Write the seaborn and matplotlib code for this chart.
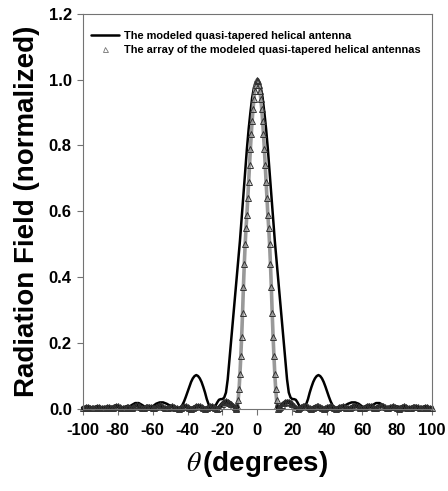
import numpy as np
import pandas as pd
import matplotlib
matplotlib.use("Agg")
import matplotlib.pyplot as plt
import seaborn as sns
from matplotlib.lines import Line2D

sns.set_theme(style="white")
plt.rcParams["font.family"] = ["Liberation Sans", "DejaVu Sans"]
plt.rcParams["mathtext.fontset"] = "stix"
plt.rcParams["axes.unicode_minus"] = False
plt.rcParams["text.color"] = "black"
plt.rcParams["axes.labelcolor"] = "black"
plt.rcParams["xtick.color"] = "black"
plt.rcParams["ytick.color"] = "black"

# ── Single quasi-tapered helical antenna (solid line) ────────────────────────
single_theta_left = np.arange(-100, -47, 2)
single_left = [0.004, 0.005, 0.006, 0.004, 0.003, 0.005, 0.006, 0.004, 0.003,
               0.006, 0.008, 0.006, 0.002, 0.005, 0.012, 0.018, 0.018, 0.012,
               0.005, 0.003, 0.008, 0.016, 0.020, 0.020, 0.016, 0.010, 0.004]
single_theta_mid = np.arange(-46, 47, 1)
single_mid = [0.000, 0.001, 0.005, 0.012, 0.023, 0.037, 0.052, 0.068, 0.082, 0.093,
              0.100, 0.103, 0.100, 0.093, 0.082, 0.067, 0.050, 0.030, 0.015, 0.005,
              0.000, 0.003, 0.010, 0.020, 0.028, 0.030, 0.030, 0.035, 0.050, 0.090,
              0.150, 0.210, 0.270, 0.330, 0.390, 0.450, 0.510, 0.580, 0.650, 0.720,
              0.790, 0.850, 0.900, 0.945, 0.975, 0.993,
              1.000,
              0.993, 0.975, 0.945, 0.900, 0.850, 0.790, 0.720, 0.650, 0.580, 0.510,
              0.450, 0.390, 0.330, 0.270, 0.210, 0.150, 0.090, 0.050, 0.035, 0.030,
              0.030, 0.028, 0.020, 0.010, 0.003, 0.000, 0.005, 0.015, 0.030, 0.050,
              0.067, 0.082, 0.093, 0.100, 0.103, 0.100, 0.093, 0.082, 0.068, 0.052,
              0.037, 0.023, 0.012, 0.005, 0.001, 0.000]
single_theta_right = np.arange(48, 101, 2)
single_right = [0.004, 0.010, 0.016, 0.020, 0.020, 0.016, 0.008, 0.003, 0.005,
                0.012, 0.018, 0.018, 0.012, 0.005, 0.002, 0.006, 0.008, 0.006,
                0.003, 0.004, 0.006, 0.005, 0.003, 0.004, 0.006, 0.005, 0.004]

# ── Array of quasi-tapered helical antennas (triangle markers) ───────────────
array_theta_left = np.arange(-100, -12, 1)
array_left = [0.003, 0.004, 0.006, 0.006, 0.004, 0.002, 0.002, 0.004, 0.006, 0.006,
              0.004, 0.002, 0.002, 0.004, 0.006, 0.006, 0.004, 0.004, 0.007, 0.009,
              0.008, 0.005, 0.002, 0.002, 0.004, 0.006, 0.006, 0.004, 0.004, 0.007,
              0.010, 0.011, 0.009, 0.005, 0.002, 0.002, 0.005, 0.007, 0.007, 0.005,
              0.003, 0.004, 0.007, 0.010, 0.011, 0.009, 0.005, 0.002, 0.002, 0.004,
              0.007, 0.008, 0.007, 0.004, 0.002, 0.001, 0.003, 0.006, 0.008, 0.008,
              0.006, 0.003, 0.001, 0.002, 0.005, 0.008, 0.009, 0.008, 0.006, 0.003,
              0.001, 0.002, 0.005, 0.008, 0.009, 0.006, 0.002, 0.000, 0.004, 0.010,
              0.016, 0.021, 0.023, 0.022, 0.019, 0.015, 0.010, 0.005]
array_theta_mid = np.arange(-12.5, 12.6, 0.5)
array_mid = [0.003, 0.000, 0.008, 0.028, 0.060, 0.105, 0.160, 0.220, 0.290, 0.370,
             0.440, 0.500, 0.550, 0.590, 0.640, 0.690, 0.740, 0.790, 0.835, 0.875,
             0.910, 0.940, 0.965, 0.985, 0.995,
             1.000,
             0.995, 0.985, 0.965, 0.940, 0.910, 0.875, 0.835, 0.790, 0.740, 0.690,
             0.640, 0.590, 0.550, 0.500, 0.440, 0.370, 0.290, 0.220, 0.160, 0.105,
             0.060, 0.028, 0.008, 0.000, 0.004]
array_theta_right = np.arange(13, 101, 1)
array_right = [0.006, 0.012, 0.017, 0.020, 0.022, 0.022, 0.019, 0.014, 0.008, 0.003,
               0.000, 0.002, 0.005, 0.008, 0.009, 0.008, 0.005, 0.002, 0.001, 0.003,
               0.006, 0.008, 0.008, 0.006, 0.003, 0.001, 0.002, 0.005, 0.007, 0.008,
               0.006, 0.003, 0.001, 0.002, 0.005, 0.007, 0.008, 0.007, 0.004, 0.002,
               0.002, 0.005, 0.008, 0.010, 0.010, 0.007, 0.004, 0.002, 0.003, 0.006,
               0.009, 0.010, 0.008, 0.005, 0.002, 0.003, 0.006, 0.009, 0.010, 0.008,
               0.005, 0.002, 0.002, 0.005, 0.007, 0.008, 0.006, 0.003, 0.001, 0.003,
               0.006, 0.008, 0.007, 0.004, 0.002, 0.002, 0.005, 0.007, 0.007, 0.005,
               0.002, 0.002, 0.004, 0.006, 0.006, 0.004, 0.002, 0.003]

single = pd.DataFrame({
    "theta": np.concatenate([single_theta_left, single_theta_mid, single_theta_right]),
    "field": np.concatenate([single_left, single_mid, single_right]),
})
array = pd.DataFrame({
    "theta": np.concatenate([array_theta_left, array_theta_mid, array_theta_right]),
    "field": np.concatenate([array_left, array_mid, array_right]),
})

# ── Plot ──────────────────────────────────────────────────────────────────────
fig = plt.figure(figsize=(4.48, 4.91), dpi=100)
ax = fig.add_axes([0.185, 0.167, 0.779, 0.805])

sns.lineplot(data=single, x="theta", y="field", ax=ax, color="black",
             linewidth=1.8, sort=False)

# the array markers are so dense they read as a grey column in the main lobe
# and as a heavy black band along the floor
lobe = array[array["theta"].abs() <= 12.5]
floor_left = array[array["theta"] <= -11.5]
floor_right = array[array["theta"] >= 11.5]
ax.plot(lobe["theta"], lobe["field"], color="0.6", linewidth=2.6,
        solid_joinstyle="round")
for part in (floor_left, floor_right):
    ax.plot(part["theta"], part["field"], color="0.05", linewidth=3.0,
            solid_joinstyle="round", clip_on=False)
ax.plot(array["theta"], array["field"], linestyle="none", marker="^",
        markersize=4.2, markerfacecolor="none", markeredgecolor="0.2",
        markeredgewidth=0.7, clip_on=False)

ax.set_xlim(-100, 100)
ax.set_ylim(0, 1.2)
ax.set_xticks(np.arange(-100, 101, 20))
ax.set_yticks(np.arange(0, 1.21, 0.2))
ax.set_yticklabels([f"{v:.1f}" for v in np.arange(0, 1.21, 0.2)])
ax.tick_params(axis="both", direction="out", length=4, width=0.8, color="0.45",
               labelsize=12, bottom=True, left=True)
ax.tick_params(axis="x", pad=6)
ax.tick_params(axis="y", pad=4)
for lab in ax.get_xticklabels() + ax.get_yticklabels():
    lab.set_fontweight("bold")
for sp in ax.spines.values():
    sp.set_color("0.45")
    sp.set_linewidth(0.8)

ax.set_xlabel(r"$\theta\,$(degrees)", fontsize=20, fontweight="bold", labelpad=8)
ax.set_ylabel("Radiation Field (normalized)", fontsize=20, fontweight="bold",
              labelpad=6)

handles = [
    Line2D([], [], color="black", linewidth=1.8),
    Line2D([], [], linestyle="none", marker="^", markersize=3.6,
           markerfacecolor="white", markeredgecolor="0.45", markeredgewidth=0.6),
]
labels = ["The modeled quasi-tapered helical antenna",
          "The array of the modeled quasi-tapered helical antennas"]
ax.legend(handles, labels, loc="upper left", bbox_to_anchor=(0.0, 0.975),
          frameon=False, prop={"weight": "bold", "size": 7.9},
          handlelength=2.6, handletextpad=0.45, labelspacing=0.3,
          borderaxespad=0.3)

plt.savefig("out.png", dpi=100)
